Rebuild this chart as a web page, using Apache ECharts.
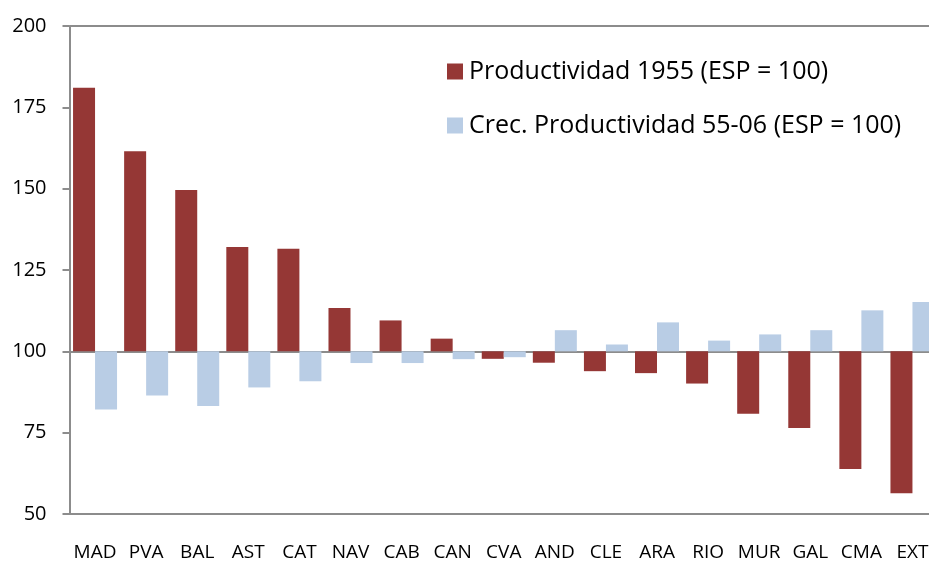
<!DOCTYPE html>
<html>
<head>
<meta charset="utf-8">
<script src="https://cdn.jsdelivr.net/npm/echarts@6/dist/echarts.min.js"></script>
<style>
html, body { margin: 0; padding: 0; background: #fff; }
#chart { width: 929px; height: 561px; }
</style>
</head>
<body>
<div id="chart"></div>
<script>
// Regiones y valores (ESP = 100)
var regions = ['MAD', 'PVA', 'BAL', 'AST', 'CAT', 'NAV', 'CAB', 'CAN', 'CVA', 'AND', 'CLE', 'ARA', 'RIO', 'MUR', 'GAL', 'CMA', 'EXT'];
var prod1955 = [181, 161.5, 149.6, 132.1, 131.5, 113.3, 109.5, 103.9, 97.7, 96.5, 93.9, 93.3, 90.1, 80.8, 76.4, 63.8, 56.4];
var crec5506 = [82.1, 86.4, 83.2, 88.9, 90.8, 96.4, 96.4, 97.6, 98.2, 106.5, 102.1, 108.9, 103.3, 105.2, 106.5, 112.6, 115.2];
var yTicks = [50, 75, 100, 125, 150, 175, 200];
var seriesNames = ['Productividad 1955 (ESP = 100)', 'Crec. Productividad 55-06 (ESP = 100)'];

var BASE = 100; // las barras parten de 100
var axisGray = '#8c8c8c';
var fontFam = '"Open Sans", "Liberation Sans", sans-serif';

function fromBase(arr) {
    return arr.map(function (v) { return +(v - BASE).toFixed(2); });
}

// solo líneas en 50 (eje), 100 y 200
var splitColors = yTicks.map(function (t) {
    return (t === 100 || t === 200) ? axisGray : 'rgba(0,0,0,0)';
});

var chart = echarts.init(document.getElementById('chart'));
var option = {
    animation: false,
    backgroundColor: '#fff',
    grid: {
        left: 69.5,
        right: -9,
        top: 26,
        bottom: 47,
        containLabel: false,
        outerBoundsMode: 'none'
    },
    legend: {
        data: seriesNames,
        orient: 'vertical',
        left: 442,
        top: 54,
        icon: 'rect',
        itemWidth: 16,
        itemHeight: 16,
        itemGap: 29,
        textStyle: {
            fontFamily: fontFam,
            fontSize: 25,
            color: '#000',
            padding: [0, 0, 0, 1]
        }
    },
    xAxis: {
        type: 'category',
        data: regions,
        axisLine: { onZero: false, lineStyle: { color: axisGray, width: 2 } },
        axisTick: { show: false },
        axisLabel: {
            interval: 0,
            margin: 29,
            fontFamily: fontFam,
            fontSize: 19,
            color: '#000'
        }
    },
    yAxis: {
        type: 'value',
        min: yTicks[0] - BASE,
        max: yTicks[yTicks.length - 1] - BASE,
        interval: 25,
        axisLine: { show: true, lineStyle: { color: axisGray, width: 2 } },
        axisTick: { show: true, length: 7, lineStyle: { color: axisGray, width: 2 } },
        splitLine: { show: true, lineStyle: { color: splitColors, width: 2 } },
        axisLabel: {
            margin: 23,
            fontFamily: fontFam,
            fontSize: 20,
            color: '#000',
            formatter: function (v) { return String(v + BASE); }
        }
    },
    series: [
        {
            name: seriesNames[0],
            type: 'bar',
            data: fromBase(prod1955),
            barWidth: 22,
            barGap: '0%',
            itemStyle: { color: '#953735' }
        },
        {
            name: seriesNames[1],
            type: 'bar',
            data: fromBase(crec5506),
            barWidth: 22,
            itemStyle: { color: '#b9cde5' }
        }
    ]
};
chart.setOption(option);
</script>
</body>
</html>
